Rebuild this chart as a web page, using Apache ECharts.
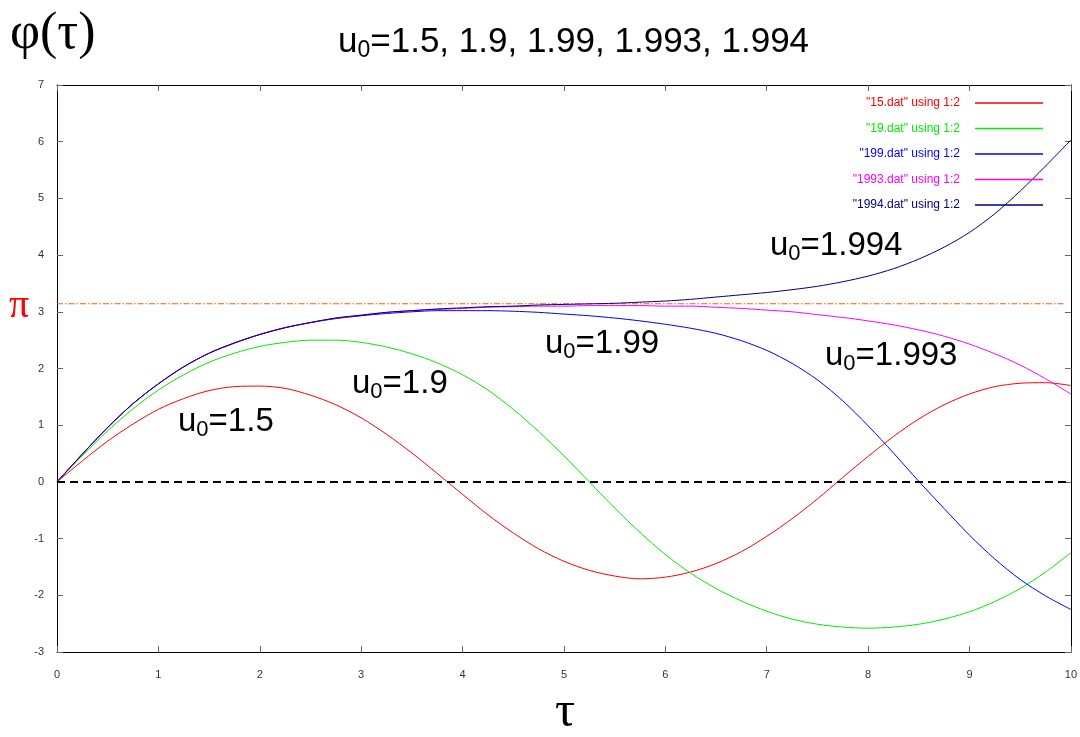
<!DOCTYPE html>
<html>
<head>
<meta charset="utf-8">
<script src="https://cdn.jsdelivr.net/npm/echarts@6/dist/echarts.min.js"></script>
<style>
  html, body { margin: 0; padding: 0; background: #fff; }
  #main { width: 1080px; height: 737px; }
</style>
</head>
<body>
<div id="main"></div>
<script>
  // tau axis samples
  var tau = [0, 0.25, 0.5, 0.75, 1, 1.25, 1.5, 1.75, 2, 2.25, 2.5, 2.75, 3, 3.25, 3.5, 3.75, 4, 4.25, 4.5, 4.75,
             5, 5.25, 5.5, 5.75, 6, 6.25, 6.5, 6.75, 7, 7.25, 7.5, 7.75, 8, 8.25, 8.5, 8.75, 9, 9.25, 9.5, 9.75, 10];
  // phi values
  var phi15   = [0, 0.37, 0.72, 1.02, 1.28, 1.47, 1.61, 1.68, 1.69, 1.65, 1.53, 1.36, 1.13, 0.84, 0.51, 0.15, -0.22, -0.58, -0.90, -1.18,
                 -1.40, -1.56, -1.66, -1.71, -1.68, -1.59, -1.44, -1.23, -0.96, -0.65, -0.30, 0.08, 0.45, 0.80, 1.11, 1.36, 1.55, 1.68, 1.74, 1.75, 1.70];
  var phi19   = [0, 0.46, 0.90, 1.29, 1.62, 1.89, 2.11, 2.27, 2.39, 2.46, 2.50, 2.50, 2.46, 2.38, 2.26, 2.10, 1.89, 1.62, 1.28, 0.89,
                 0.46, 0.00, -0.46, -0.89, -1.28, -1.61, -1.88, -2.10, -2.28, -2.42, -2.51, -2.56, -2.58, -2.56, -2.51, -2.42, -2.29, -2.11, -1.88, -1.59, -1.25];
  var phi199  = [0, 0.49, 0.96, 1.38, 1.73, 2.03, 2.27, 2.45, 2.60, 2.72, 2.81, 2.88, 2.93, 2.97, 3.00, 3.02, 3.02, 3.02, 3.01, 2.99,
                 2.96, 2.93, 2.89, 2.84, 2.78, 2.71, 2.62, 2.49, 2.32, 2.09, 1.80, 1.43, 0.99, 0.51, 0.01, -0.47, -0.94, -1.36, -1.72, -2.01, -2.25];
  var phi1993 = [0, 0.49, 0.96, 1.38, 1.73, 2.03, 2.27, 2.45, 2.60, 2.72, 2.81, 2.89, 2.94, 2.99, 3.02, 3.04, 3.06, 3.08, 3.09, 3.10,
                 3.10, 3.11, 3.11, 3.11, 3.10, 3.10, 3.08, 3.06, 3.03, 3.00, 2.95, 2.90, 2.84, 2.77, 2.68, 2.57, 2.43, 2.26, 2.06, 1.82, 1.55];
  var phi1994 = [0, 0.49, 0.96, 1.38, 1.73, 2.03, 2.27, 2.45, 2.60, 2.72, 2.81, 2.89, 2.94, 2.99, 3.02, 3.05, 3.07, 3.09, 3.10, 3.12,
                 3.13, 3.14, 3.15, 3.17, 3.19, 3.22, 3.26, 3.30, 3.34, 3.39, 3.45, 3.53, 3.63, 3.76, 3.93, 4.14, 4.40, 4.73, 5.13, 5.57, 6.03];
  // reference lines
  var piX = [0, 9.93];
  var zeroX = [0, 10];

  var names = ['"15.dat" using 1:2', '"19.dat" using 1:2', '"199.dat" using 1:2', '"1993.dat" using 1:2', '"1994.dat" using 1:2'];
  var colors = ['#ff0000', '#00ee00', '#0000ff', '#ff00ff', '#000080'];
  var values = [phi15, phi19, phi199, phi1993, phi1994];

  function pairs(arr) {
    return tau.map(function (t, i) { return [t, arr[i]]; });
  }

  var FONT = 'Liberation Sans';
  var SERIF = 'Liberation Serif';

  var series = [];
  series.push({
    name: 'pi', type: 'line', symbol: 'none', silent: true, z: 1,
    data: piX.map(function (x) { return [x, Math.PI]; }),
    lineStyle: { color: '#ff6000', width: 1.2, type: [6, 2, 1.5, 2] }
  });
  for (var i = 0; i < names.length; i++) {
    series.push({
      name: names[i], type: 'line', symbol: 'none', smooth: 0.3,
      data: pairs(values[i]),
      lineStyle: { color: colors[i], width: 1 },
      itemStyle: { color: colors[i] },
      z: 2
    });
  }
  series.push({
    name: 'zero', type: 'line', symbol: 'none', silent: true, z: 3,
    data: zeroX.map(function (x) { return [x, 0]; }),
    lineStyle: { color: '#000', width: 2, type: [8, 5] }
  });

  function curveLabel(val, left, top) {
    return {
      type: 'text', left: left, top: top,
      style: {
        text: '{a|u}{s|0}{a|=' + val + '}',
        rich: {
          a: { fontSize: 33, fontFamily: FONT, fill: '#000', lineHeight: 36 },
          s: { fontSize: 22, fontFamily: FONT, fill: '#000', lineHeight: 36, padding: [16, 0, 0, 0] }
        }
      }
    };
  }

  var axisCommon = {
    axisLine: { show: true, onZero: false, lineStyle: { color: '#000', width: 1 } },
    axisTick: { show: true, inside: true, length: 6, lineStyle: { color: '#666' } },
    splitLine: { show: false }
  };

  var chart = echarts.init(document.getElementById('main'));
  chart.setOption({
    animation: false,
    backgroundColor: '#fff',
    grid: { left: 57, right: 6, top: 85, bottom: 85 },
    legend: {
      orient: 'vertical', right: 32, top: 92, align: 'right',
      icon: 'rect', itemWidth: 68, itemHeight: 1.5, itemGap: 13.5,
      data: names.map(function (n, i) {
        return { name: n, textStyle: { color: colors[i] } };
      }),
      textStyle: { fontSize: 12, fontFamily: FONT, padding: [0, 10, 0, 0] }
    },
    xAxis: [
      Object.assign({ type: 'value', min: 0, max: 10, interval: 1,
        axisLabel: { fontSize: 11, fontFamily: FONT, color: '#333', margin: 17 } }, axisCommon),
      Object.assign({ type: 'value', min: 0, max: 10, interval: 1, position: 'top',
        axisLabel: { show: false } }, axisCommon)
    ],
    yAxis: [
      Object.assign({ type: 'value', min: -3, max: 7, interval: 1,
        axisLabel: { fontSize: 11, fontFamily: FONT, color: '#333', margin: 13 } }, axisCommon),
      Object.assign({ type: 'value', min: -3, max: 7, interval: 1, position: 'right',
        axisLabel: { show: false } }, axisCommon)
    ],
    graphic: [
      { type: 'text', left: 10, top: 8, style: { text: 'φ(τ)', font: '52px "' + SERIF + '"', fill: '#000' } },
      {
        type: 'text', left: 338, top: 23,
        style: {
          text: '{a|u}{s|0}{a|=1.5, 1.9, 1.99, 1.993, 1.994}',
          rich: {
            a: { fontSize: 35, fontFamily: FONT, fill: '#000', lineHeight: 38 },
            s: { fontSize: 23, fontFamily: FONT, fill: '#000', lineHeight: 38, padding: [16, 0, 0, 0] }
          }
        }
      },
      { type: 'text', left: 9, top: 286, style: { text: 'π', font: '40px "' + SERIF + '"', fill: '#ff0000' } },
      { type: 'text', left: 555, top: 688, style: { text: 'τ', font: '50px "' + SERIF + '"', fill: '#000' } },
      curveLabel('1.5', 178, 403),
      curveLabel('1.9', 352, 365),
      curveLabel('1.99', 545, 325),
      curveLabel('1.993', 825, 337),
      curveLabel('1.994', 770, 227)
    ],
    series: series
  });
</script>
</body>
</html>
